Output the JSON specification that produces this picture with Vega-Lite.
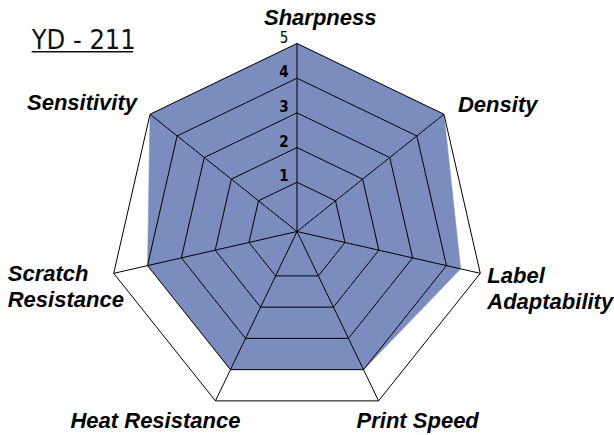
{
  "$schema": "https://vega.github.io/schema/vega-lite/v6.json",
  "width": 614,
  "height": 435,
  "autosize": {"type": "fit", "contains": "padding"},
  "padding": 0,
  "background": "white",
  "config": {"view": {"stroke": null}},
  "datasets": {
    "scores": [
      {"axis": "Sharpness", "idx": 0, "score": 5},
      {"axis": "Density", "idx": 1, "score": 5},
      {"axis": "Label Adaptability", "idx": 2, "score": 4.42},
      {"axis": "Print Speed", "idx": 3, "score": 4},
      {"axis": "Heat Resistance", "idx": 4, "score": 4},
      {"axis": "Scratch Resistance", "idx": 5, "score": 4},
      {"axis": "Sensitivity", "idx": 6, "score": 5}
    ],
    "rings": [
      {"ring": 1, "k": [0, 1, 2, 3, 4, 5, 6]},
      {"ring": 2, "k": [0, 1, 2, 3, 4, 5, 6]},
      {"ring": 3, "k": [0, 1, 2, 3, 4, 5, 6]},
      {"ring": 4, "k": [0, 1, 2, 3, 4, 5, 6]},
      {"ring": 5, "k": [0, 1, 2, 3, 4, 5, 6]}
    ],
    "heading": [{"title": "YD - 211"}]
  },
  "layer": [
    {
      "data": {"name": "scores"},
      "transform": [
        {"calculate": "(datum.score + 0.42) * sin(datum.idx * 2 * PI / 7)", "as": "x"},
        {"calculate": "(datum.score + 0.42) * cos(datum.idx * 2 * PI / 7)", "as": "y"}
      ],
      "mark": {"type": "line", "interpolate": "linear-closed", "fill": "#7b8cbe", "stroke": "#7b8cbe", "strokeWidth": 0.5},
      "encoding": {
        "x": {"field": "x", "type": "quantitative", "scale": {"domain": [-8.5626, 9.1393], "nice": false, "zero": false}, "axis": null},
        "y": {"field": "y", "type": "quantitative", "scale": {"domain": [-5.8669, 6.6742], "nice": false, "zero": false}, "axis": null},
        "order": {"field": "idx", "type": "quantitative"}
      }
    },
    {
      "data": {"name": "rings"},
      "transform": [
        {"flatten": ["k"]},
        {"calculate": "(datum.ring + 0.42) * sin(datum.k * 2 * PI / 7)", "as": "x"},
        {"calculate": "(datum.ring + 0.42) * cos(datum.k * 2 * PI / 7)", "as": "y"}
      ],
      "mark": {"type": "line", "interpolate": "linear-closed", "stroke": "#000000", "strokeWidth": 1},
      "encoding": {
        "x": {"field": "x", "type": "quantitative", "scale": {"domain": [-8.5626, 9.1393], "nice": false, "zero": false}, "axis": null},
        "y": {"field": "y", "type": "quantitative", "scale": {"domain": [-5.8669, 6.6742], "nice": false, "zero": false}, "axis": null},
        "detail": {"field": "ring", "type": "nominal"},
        "order": {"field": "k", "type": "quantitative"}
      }
    },
    {
      "data": {"name": "scores"},
      "transform": [
        {"calculate": "5.42 * sin(datum.idx * 2 * PI / 7)", "as": "x"},
        {"calculate": "5.42 * cos(datum.idx * 2 * PI / 7)", "as": "y"}
      ],
      "mark": {"type": "rule", "stroke": "#000000", "strokeWidth": 1},
      "encoding": {
        "x": {"field": "x", "type": "quantitative", "scale": {"domain": [-8.5626, 9.1393], "nice": false, "zero": false}, "axis": null},
        "y": {"field": "y", "type": "quantitative", "scale": {"domain": [-5.8669, 6.6742], "nice": false, "zero": false}, "axis": null},
        "x2": {"datum": 0},
        "y2": {"datum": 0}
      }
    },
    {
      "data": {"name": "scores"},
      "transform": [
        {"filter": "datum.axis == 'Sharpness'"},
        {"calculate": "5.42 * sin(datum.idx * 2 * PI / 7)", "as": "x"},
        {"calculate": "5.42 * cos(datum.idx * 2 * PI / 7)", "as": "y"}
      ],
      "mark": {"type": "text", "align": "left", "baseline": "alphabetic", "dx": -33, "dy": -19, "font": "Liberation Sans", "fontSize": 22, "fontWeight": "bold", "fontStyle": "italic", "color": "#000000"},
      "encoding": {
        "x": {"field": "x", "type": "quantitative", "scale": {"domain": [-8.5626, 9.1393], "nice": false, "zero": false}, "axis": null},
        "y": {"field": "y", "type": "quantitative", "scale": {"domain": [-5.8669, 6.6742], "nice": false, "zero": false}, "axis": null},
        "text": {"field": "axis"}
      }
    },
    {
      "data": {"name": "scores"},
      "transform": [
        {"filter": "datum.axis == 'Density'"},
        {"calculate": "5.42 * sin(datum.idx * 2 * PI / 7)", "as": "x"},
        {"calculate": "5.42 * cos(datum.idx * 2 * PI / 7)", "as": "y"}
      ],
      "mark": {"type": "text", "align": "left", "baseline": "alphabetic", "dx": 14, "dy": -2, "font": "Liberation Sans", "fontSize": 22, "fontWeight": "bold", "fontStyle": "italic", "color": "#000000"},
      "encoding": {
        "x": {"field": "x", "type": "quantitative", "scale": {"domain": [-8.5626, 9.1393], "nice": false, "zero": false}, "axis": null},
        "y": {"field": "y", "type": "quantitative", "scale": {"domain": [-5.8669, 6.6742], "nice": false, "zero": false}, "axis": null},
        "text": {"field": "axis"}
      }
    },
    {
      "data": {"name": "scores"},
      "transform": [
        {"filter": "datum.axis == 'Label Adaptability'"},
        {"calculate": "5.42 * sin(datum.idx * 2 * PI / 7)", "as": "x"},
        {"calculate": "5.42 * cos(datum.idx * 2 * PI / 7)", "as": "y"}
      ],
      "mark": {"type": "text", "align": "left", "baseline": "alphabetic", "dx": 7, "dy": 10, "lineBreak": " ", "lineHeight": 26, "font": "Liberation Sans", "fontSize": 22, "fontWeight": "bold", "fontStyle": "italic", "color": "#000000"},
      "encoding": {
        "x": {"field": "x", "type": "quantitative", "scale": {"domain": [-8.5626, 9.1393], "nice": false, "zero": false}, "axis": null},
        "y": {"field": "y", "type": "quantitative", "scale": {"domain": [-5.8669, 6.6742], "nice": false, "zero": false}, "axis": null},
        "text": {"field": "axis"}
      }
    },
    {
      "data": {"name": "scores"},
      "transform": [
        {"filter": "datum.axis == 'Print Speed'"},
        {"calculate": "5.42 * sin(datum.idx * 2 * PI / 7)", "as": "x"},
        {"calculate": "5.42 * cos(datum.idx * 2 * PI / 7)", "as": "y"}
      ],
      "mark": {"type": "text", "align": "left", "baseline": "alphabetic", "dx": -22, "dy": 27, "font": "Liberation Sans", "fontSize": 22, "fontWeight": "bold", "fontStyle": "italic", "color": "#000000"},
      "encoding": {
        "x": {"field": "x", "type": "quantitative", "scale": {"domain": [-8.5626, 9.1393], "nice": false, "zero": false}, "axis": null},
        "y": {"field": "y", "type": "quantitative", "scale": {"domain": [-5.8669, 6.6742], "nice": false, "zero": false}, "axis": null},
        "text": {"field": "axis"}
      }
    },
    {
      "data": {"name": "scores"},
      "transform": [
        {"filter": "datum.axis == 'Heat Resistance'"},
        {"calculate": "5.42 * sin(datum.idx * 2 * PI / 7)", "as": "x"},
        {"calculate": "5.42 * cos(datum.idx * 2 * PI / 7)", "as": "y"}
      ],
      "mark": {"type": "text", "align": "right", "baseline": "alphabetic", "dx": 25, "dy": 27, "font": "Liberation Sans", "fontSize": 22, "fontWeight": "bold", "fontStyle": "italic", "color": "#000000"},
      "encoding": {
        "x": {"field": "x", "type": "quantitative", "scale": {"domain": [-8.5626, 9.1393], "nice": false, "zero": false}, "axis": null},
        "y": {"field": "y", "type": "quantitative", "scale": {"domain": [-5.8669, 6.6742], "nice": false, "zero": false}, "axis": null},
        "text": {"field": "axis"}
      }
    },
    {
      "data": {"name": "scores"},
      "transform": [
        {"filter": "datum.axis == 'Scratch Resistance'"},
        {"calculate": "5.42 * sin(datum.idx * 2 * PI / 7)", "as": "x"},
        {"calculate": "5.42 * cos(datum.idx * 2 * PI / 7)", "as": "y"}
      ],
      "mark": {"type": "text", "align": "left", "baseline": "alphabetic", "dx": -106, "dy": 8, "lineBreak": " ", "lineHeight": 26, "font": "Liberation Sans", "fontSize": 22, "fontWeight": "bold", "fontStyle": "italic", "color": "#000000"},
      "encoding": {
        "x": {"field": "x", "type": "quantitative", "scale": {"domain": [-8.5626, 9.1393], "nice": false, "zero": false}, "axis": null},
        "y": {"field": "y", "type": "quantitative", "scale": {"domain": [-5.8669, 6.6742], "nice": false, "zero": false}, "axis": null},
        "text": {"field": "axis"}
      }
    },
    {
      "data": {"name": "scores"},
      "transform": [
        {"filter": "datum.axis == 'Sensitivity'"},
        {"calculate": "5.42 * sin(datum.idx * 2 * PI / 7)", "as": "x"},
        {"calculate": "5.42 * cos(datum.idx * 2 * PI / 7)", "as": "y"}
      ],
      "mark": {"type": "text", "align": "right", "baseline": "alphabetic", "dx": -13, "dy": -4, "font": "Liberation Sans", "fontSize": 22, "fontWeight": "bold", "fontStyle": "italic", "color": "#000000"},
      "encoding": {
        "x": {"field": "x", "type": "quantitative", "scale": {"domain": [-8.5626, 9.1393], "nice": false, "zero": false}, "axis": null},
        "y": {"field": "y", "type": "quantitative", "scale": {"domain": [-5.8669, 6.6742], "nice": false, "zero": false}, "axis": null},
        "text": {"field": "axis"}
      }
    },
    {
      "data": {"name": "rings"},
      "transform": [
        {"filter": "datum.ring < 5"},
        {"calculate": "0", "as": "x"},
        {"calculate": "datum.ring + 0.42", "as": "y"}
      ],
      "mark": {"type": "text", "align": "center", "baseline": "alphabetic", "dx": -13, "dy": -1, "font": "DejaVu Sans Condensed", "fontSize": 15, "fontWeight": "bold", "color": "#000000"},
      "encoding": {
        "x": {"field": "x", "type": "quantitative", "scale": {"domain": [-8.5626, 9.1393], "nice": false, "zero": false}, "axis": null},
        "y": {"field": "y", "type": "quantitative", "scale": {"domain": [-5.8669, 6.6742], "nice": false, "zero": false}, "axis": null},
        "text": {"field": "ring"}
      }
    },
    {
      "data": {"name": "rings"},
      "transform": [
        {"filter": "datum.ring == 5"},
        {"calculate": "0", "as": "x"},
        {"calculate": "datum.ring + 0.42", "as": "y"}
      ],
      "mark": {"type": "text", "align": "center", "baseline": "alphabetic", "dx": -13, "dy": -1, "font": "DejaVu Sans Condensed", "fontSize": 15, "fontWeight": "normal", "color": "#000000"},
      "encoding": {
        "x": {"field": "x", "type": "quantitative", "scale": {"domain": [-8.5626, 9.1393], "nice": false, "zero": false}, "axis": null},
        "y": {"field": "y", "type": "quantitative", "scale": {"domain": [-5.8669, 6.6742], "nice": false, "zero": false}, "axis": null},
        "text": {"field": "ring"}
      }
    },
    {
      "data": {"name": "heading"},
      "mark": {"type": "text", "align": "left", "baseline": "alphabetic", "font": "DejaVu Sans Condensed", "fontSize": 27, "color": "#111111"},
      "encoding": {
        "x": {"datum": -7.649, "type": "quantitative", "scale": {"domain": [-8.5626, 9.1393], "nice": false, "zero": false}, "axis": null},
        "y": {"datum": 5.253, "type": "quantitative", "scale": {"domain": [-5.8669, 6.6742], "nice": false, "zero": false}, "axis": null},
        "text": {"field": "title"}
      }
    },
    {
      "data": {"name": "heading"},
      "mark": {"type": "rule", "stroke": "#111111", "strokeWidth": 1.5},
      "encoding": {
        "x": {"datum": -7.649, "type": "quantitative", "scale": {"domain": [-8.5626, 9.1393], "nice": false, "zero": false}, "axis": null},
        "x2": {"datum": -4.728},
        "y": {"datum": 5.184, "type": "quantitative", "scale": {"domain": [-5.8669, 6.6742], "nice": false, "zero": false}, "axis": null}
      }
    }
  ]
}
